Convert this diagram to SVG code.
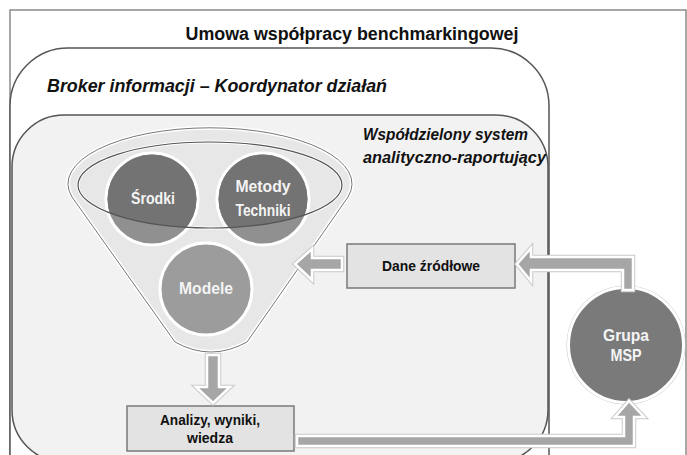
<svg xmlns="http://www.w3.org/2000/svg" width="687" height="455" viewBox="0 0 687 455">
<defs>
<style>
.t{font-family:"Liberation Sans",Arial,sans-serif;font-weight:bold;fill:#111}
.w{font-family:"Liberation Sans",Arial,sans-serif;font-weight:bold;fill:#f4f4f4;text-anchor:middle}
.box{fill:#e3e3e3;stroke:#7a7a7a;stroke-width:1.5}
.arr{fill:#a6a6a6;stroke:#fff;stroke-width:2.5;stroke-linejoin:miter}
.arrs{fill:none;stroke:#c9c9c9;stroke-width:4.5}
.circ{stroke:#fff;stroke-width:3}
</style>
<clipPath id="mouth"><ellipse cx="210" cy="185" rx="132" ry="43"/></clipPath>
</defs>
<rect x="0" y="0" width="687" height="455" fill="#fff"/>
<g id="frame">
<rect x="10" y="10" width="676" height="470" fill="#fff" stroke="#8a8a8a" stroke-width="1.5"/>
<text class="t" x="352" y="40" font-size="18" text-anchor="middle" textLength="333" lengthAdjust="spacingAndGlyphs">Umowa współpracy benchmarkingowej</text>
</g>
<g id="broker">
<rect x="10" y="48" width="539" height="480" rx="58" ry="58" fill="#fff" stroke="#555" stroke-width="1.5"/>
<text class="t" x="47" y="92" font-size="18" font-style="italic" textLength="340" lengthAdjust="spacingAndGlyphs">Broker informacji – Koordynator działań</text>
</g>
<g id="system">
<rect x="12" y="115" width="536" height="347" rx="52" ry="52" fill="#f2f2f2" stroke="#555" stroke-width="1.5"/>
<text class="t" x="363" y="140" font-size="17" font-style="italic" textLength="165" lengthAdjust="spacingAndGlyphs">Współdzielony system</text>
<text class="t" x="363" y="163" font-size="17" font-style="italic" textLength="183" lengthAdjust="spacingAndGlyphs">analityczno-raportujący</text>
</g>
<g id="funnel">
<path d="M72,197 A142,56 0 1 1 348,197 L247,342 Q211,362 175,342 Z" fill="#e7e7e7" stroke="#fff" stroke-width="4"/>
<path d="M72,197 A142,56 0 1 1 348,197 L247,342 Q211,362 175,342 Z" fill="none" stroke="#777" stroke-width="1"/>
<ellipse cx="210" cy="185" rx="132" ry="43" fill="none" stroke="#fff" stroke-width="3"/>
</g>
<g id="srodki">
<circle class="circ" cx="152" cy="199" r="46" fill="#909090"/>
<circle cx="152" cy="199" r="44.5" fill="#737373" clip-path="url(#mouth)"/>
<text class="w" x="153" y="204" font-size="16" textLength="44" lengthAdjust="spacingAndGlyphs">Środki</text>
</g>
<g id="metody">
<circle class="circ" cx="263" cy="199" r="46" fill="#909090"/>
<circle cx="263" cy="199" r="44.5" fill="#737373" clip-path="url(#mouth)"/>
<text class="w" x="263" y="192" font-size="16" textLength="55" lengthAdjust="spacingAndGlyphs">Metody</text>
<text class="w" x="263" y="216" font-size="16" textLength="55" lengthAdjust="spacingAndGlyphs">Techniki</text>
</g>
<g id="mouth-rim">
<ellipse cx="210" cy="185" rx="132" ry="43" fill="none" stroke="#555" stroke-width="1.2"/>
</g>
<g id="modele">
<circle class="circ" cx="206" cy="289" r="46" fill="#9c9c9c"/>
<text class="w" x="206" y="294" font-size="16" textLength="54" lengthAdjust="spacingAndGlyphs">Modele</text>
</g>
<g id="dane">
<rect class="box" x="347" y="244" width="168" height="44"/>
<text class="t" x="431" y="271" font-size="14.5" text-anchor="middle" textLength="98" lengthAdjust="spacingAndGlyphs">Dane źródłowe</text>
</g>
<g id="analizy">
<rect class="box" x="127" y="406" width="167" height="45"/>
<text class="t" x="210" y="425" font-size="14.5" text-anchor="middle" textLength="100" lengthAdjust="spacingAndGlyphs">Analizy, wyniki,</text>
<text class="t" x="210" y="443" font-size="14.5" text-anchor="middle" textLength="46" lengthAdjust="spacingAndGlyphs">wiedza</text>
</g>
<g id="grupa">
<circle cx="626" cy="345" r="59.5" fill="#c4c4c4"/>
<circle class="circ" cx="626" cy="345" r="57.5" fill="#7a7a7a"/>
<text class="w" x="626" y="341" font-size="16.5" textLength="46" lengthAdjust="spacingAndGlyphs">Grupa</text>
<text class="w" x="626" y="361" font-size="16.5" textLength="31" lengthAdjust="spacingAndGlyphs">MSP</text>
</g>
<g id="connectors">
<path class="arrs" d="M342,258 L312,258 L312,249 L295,264 L312,280 L312,270 L342,270 Z"/>
<path class="arr" d="M342,258 L312,258 L312,249 L295,264 L312,280 L312,270 L342,270 Z"/>
<path class="arrs" d="M633,290 L633,257 L531,257 L531,248 L517,264 L531,281 L531,270 L623,270 L623,290 Z"/>
<path class="arr" d="M633,290 L633,257 L531,257 L531,248 L517,264 L531,281 L531,270 L623,270 L623,290 Z"/>
<path class="arrs" d="M207,355 L219,355 L219,387 L230,387 L213,403 L196,387 L207,387 Z"/>
<path class="arr" d="M207,355 L219,355 L219,387 L230,387 L213,403 L196,387 L207,387 Z"/>
<path class="arrs" d="M297,436 L624,436 L624,417 L615,417 L629,401 L644,417 L634,417 L634,446 L297,446 Z"/>
<path class="arr" d="M297,436 L624,436 L624,417 L615,417 L629,401 L644,417 L634,417 L634,446 L297,446 Z"/>
</g>
</svg>
